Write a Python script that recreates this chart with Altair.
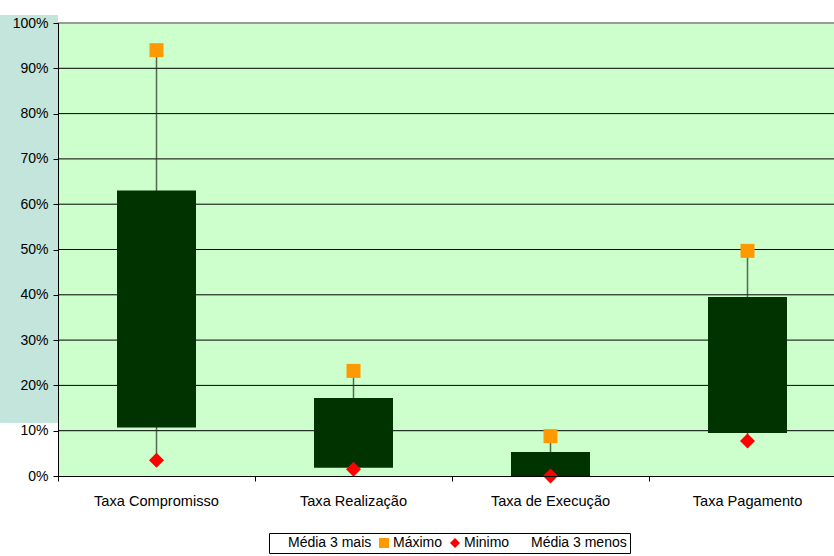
import altair as alt
import pandas as pd

# Rates per indicator (share of 1.0)
categorias = ["Taxa Compromisso", "Taxa Realização", "Taxa de Execução", "Taxa Pagamento"]
media_3_mais = [0.63, 0.172, 0.053, 0.395]
media_3_menos = [0.107, 0.018, 0.0, 0.095]
maximo = [0.94, 0.232, 0.088, 0.497]
minimo = [0.035, 0.015, 0.0, 0.077]

series = ["Média 3 mais", "Máximo", "Minimo", "Média 3 menos"]
series_cores = ["transparent", "#FF9900", "#FF0000", "transparent"]
series_formas = ["square", "square", "diamond", "square"]

# Value-axis ticks (0% .. 100%)
ticks_y = [i / 10 for i in range(11)]

FONT = "Liberation Sans"

caixas = pd.DataFrame({
    "categoria": categorias,
    "mais": media_3_mais,
    "menos": media_3_menos,
    "max": maximo,
    "min": minimo,
})

pontos = pd.DataFrame({
    "categoria": categorias * 2,
    "valor": maximo + minimo,
    "serie": ["Máximo"] * 4 + ["Minimo"] * 4,
})

grelha = pd.DataFrame({"v": ticks_y[1:]})

# Category bands run a little past the right edge of the page
x_scale = alt.Scale(domain=categorias, range=[0, 788], paddingInner=0, paddingOuter=0)

x_enc = alt.X(
    "categoria:N",
    sort=categorias,
    scale=x_scale,
    axis=alt.Axis(
        title=None, labelAngle=0, labelFont=FONT, labelFontSize=14.6,
        labelColor="black", domainColor="black", tickColor="black",
        tickSize=5, bandPosition=0, labelPadding=12, grid=False,
        labelBound=False, zindex=1,
    ),
)

y_scale = alt.Scale(domain=[0, 1], nice=False)

# Teal side panel of the slide behind the value axis
painel = alt.Chart(caixas).mark_rect(color="#C3E5DB").encode(
    x=alt.value(-58), x2=alt.value(0), y=alt.value(-8), y2=alt.value(400),
)

grid = alt.Chart(grelha).mark_rule().encode(
    y=alt.Y("v:Q", scale=y_scale,
            axis=alt.Axis(title=None, format=".0%", values=ticks_y,
                          labelFont=FONT, labelFontSize=14, labelColor="black",
                          domainColor="black", tickColor="black", tickSize=5,
                          labelPadding=5, grid=False, zindex=1)),
    color=alt.condition(alt.datum.v == 1, alt.value("#9a9a9a"), alt.value("black")),
    strokeWidth=alt.condition(alt.datum.v == 1, alt.value(2), alt.value(1)),
)

whisker = alt.Chart(caixas).mark_rule(color="#2a3a2a", strokeWidth=1.5, opacity=0.75).encode(
    x=x_enc,
    y=alt.Y("min:Q", scale=y_scale),
    y2="max:Q",
)

box = alt.Chart(caixas).mark_bar(size=79, color="#003300").encode(
    x=alt.X("categoria:N", sort=categorias, scale=x_scale),
    y=alt.Y("menos:Q", scale=y_scale),
    y2="mais:Q",
)

marcadores = alt.Chart(pontos).mark_point(filled=True, opacity=1, strokeWidth=0).encode(
    x=alt.X("categoria:N", sort=categorias, scale=x_scale),
    y=alt.Y("valor:Q", scale=y_scale),
    color=alt.Color("serie:N", scale=alt.Scale(domain=series, range=series_cores),
                    legend=alt.Legend(
                        title=None, orient="none", legendX=211, legendY=510,
                        direction="horizontal", strokeColor="black",
                        fillColor="white", padding=3, labelFont=FONT,
                        labelFontSize=14, labelColor="black", symbolSize=100,
                        symbolStrokeWidth=0, columnPadding=5, labelOffset=2,
                    )),
    shape=alt.Shape("serie:N", scale=alt.Scale(domain=series, range=series_formas),
                    legend=None),
    size=alt.condition(alt.datum.serie == "Máximo", alt.value(196), alt.value(225)),
)

chart = alt.layer(painel, grid, whisker, box, marcadores).properties(
    width=776, height=453,
    autosize=alt.AutoSizeParams(type="none"),
    padding={"left": 58, "top": 23, "right": 0, "bottom": 80},
    background="white",
).configure_view(
    fill="#CCFFCC", stroke=None,
)

chart.save("out.html", embed_options={"renderer": "svg", "actions": False})
